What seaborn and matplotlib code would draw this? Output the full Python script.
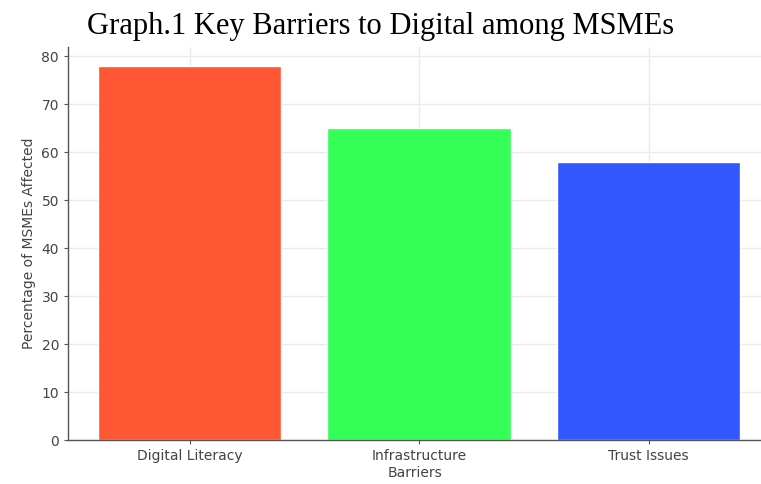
import matplotlib
matplotlib.use("Agg")
import matplotlib.pyplot as plt
import seaborn as sns
import pandas as pd

categories = ["Digital Literacy", "Infrastructure", "Trust Issues"]
values = [78, 65, 58]
colors = ["#FF5733", "#33FF57", "#3357FF"]
title = "Graph.1 Key Barriers to Digital among MSMEs"
ylabel = "Percentage of MSMEs Affected"
xlabel = "Barriers"

df = pd.DataFrame({"cat": categories, "val": values})

sns.set_style("whitegrid", {"grid.color": "#ebebeb", "axes.edgecolor": "#555555"})
plt.rcParams["font.family"] = ["DejaVu Sans"]

fig = plt.figure(figsize=(7.61, 4.84), dpi=100)
ax = fig.add_axes([0.0894, 0.0909, 0.9106, 0.812])
sns.barplot(data=df, x="cat", y="val", hue="cat", palette=colors, width=0.8,
            saturation=1, legend=False, ax=ax)
ax.set_xlim(-0.53, 2.49)
ax.set_ylim(0, 81.9)
ax.set_yticks(range(0, 81, 10))
ax.grid(True, axis="both", color="#ebebeb", linewidth=1)
ax.set_xlabel(xlabel, fontsize=10, color="#444444", labelpad=2)
ax.set_ylabel(ylabel, fontsize=10, color="#444444")
ax.tick_params(axis="both", labelsize=10, labelcolor="#444444", color="#555555",
               length=3, left=True, bottom=True)
for s in ["top", "right"]:
    ax.spines[s].set_visible(False)
for s in ["left", "bottom"]:
    ax.spines[s].set_linewidth(1.0)
ax.set_axisbelow(True)
fig.text(0.5, 0.945, title, ha="center", va="center", fontsize=22,
         family="Liberation Serif", color="black")
fig.savefig("out.png", dpi=100)
